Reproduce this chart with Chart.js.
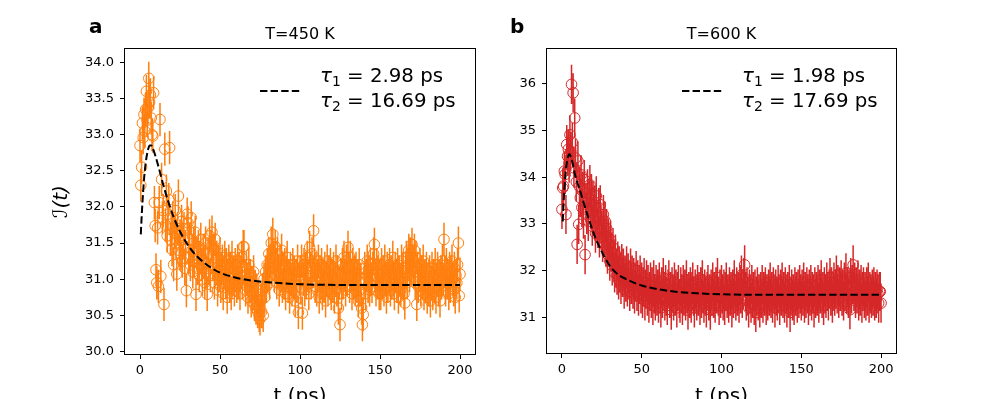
<!DOCTYPE html>
<html>
<head>
<meta charset="utf-8">
<script src="https://cdn.jsdelivr.net/npm/chart.js@4.4.0/dist/chart.umd.min.js"></script>
<style>
html, body { margin: 0; padding: 0; background: #fff; overflow: hidden; }
#wrap { position: relative; width: 997px; height: 399px; overflow: hidden; font-family: 'DejaVu Sans', sans-serif; color: #000; }
.cv { position: absolute; top: 0; }
.lbl { position: absolute; font-weight: bold; font-size: 20px; line-height: 20px; }
.ttl { position: absolute; font-size: 16px; line-height: 16px; text-align: center; }
.leg { position: absolute; font-size: 19.8px; line-height: 20px; white-space: nowrap; }
.leg i { font-style: italic; }
.leg sub { font-size: 0.7em; vertical-align: baseline; position: relative; top: 0.3em; line-height: 0; }
.dash { position: absolute; }
</style>
</head>
<body>
<div id="wrap">
  <canvas id="chartA" class="cv" width="490" height="420" style="left:0px"></canvas>
  <canvas id="chartB" class="cv" width="507" height="420" style="left:490px"></canvas>

  <div class="lbl" style="left:89px;top:16px">a</div>
  <div class="lbl" style="left:510px;top:16px">b</div>
  <div class="ttl" style="left:124px;top:26px;width:352px">T=450 K</div>
  <div class="ttl" style="left:546px;top:26px;width:351px">T=600 K</div>

  <svg class="dash" style="left:260px;top:89px" width="44" height="4"><line x1="0" y1="2" x2="42" y2="2" stroke="#000" stroke-width="2" stroke-dasharray="7.4 3.2"/></svg>
  <div class="leg" style="left:320px;top:66px"><i>τ</i><sub>1</sub> = 2.98 ps</div>
  <div class="leg" style="left:320px;top:91px"><i>τ</i><sub>2</sub> = 16.69 ps</div>

  <svg class="dash" style="left:682px;top:89px" width="44" height="4"><line x1="0" y1="2" x2="42" y2="2" stroke="#000" stroke-width="2" stroke-dasharray="7.4 3.2"/></svg>
  <div class="leg" style="left:742px;top:66px"><i>τ</i><sub>1</sub> = 1.98 ps</div>
  <div class="leg" style="left:742px;top:91px"><i>τ</i><sub>2</sub> = 17.69 ps</div>
</div>

<script>
// sampling interval of the trajectories (ps)
const T_STEP = 0.5;

// T=450 K, one value every 0.5 ps from 0 to 200 ps
const yA = [
  32.85, 32.30, 32.55, 33.16, 32.96, 33.28, 33.05, 33.35, 33.60, 33.20,
  33.37, 33.78, 33.45, 33.55, 33.23, 33.00, 32.98, 33.58, 32.06, 31.74,
  31.13, 30.95, 31.71, 30.90, 32.06, 33.21, 31.04, 32.38, 31.85, 31.95,
  30.65, 32.80, 31.75, 32.22, 31.60, 31.90, 32.10, 32.82, 31.55, 31.70,
  31.41, 31.85, 31.20, 31.65, 31.95, 31.50, 31.07, 31.70, 32.15, 31.40,
  31.60, 31.35, 31.80, 31.25, 31.55, 31.70, 31.15, 31.45, 30.84, 31.90,
  31.78, 31.30, 31.55, 31.20, 31.85, 31.40, 31.10, 31.50, 31.25, 31.65,
  30.79, 31.35, 31.15, 31.45, 31.05, 31.30, 31.55, 31.20, 31.00, 31.40,
  31.25, 30.95, 31.50, 31.10, 30.79, 31.35, 31.15, 31.60, 31.05, 31.45,
  31.65, 31.20, 31.40, 30.95, 31.55, 31.15, 31.30, 30.85, 31.25, 31.05,
  31.35, 30.90, 31.15, 31.25, 30.80, 31.10, 31.30, 30.95, 31.20, 30.75,
  31.05, 31.25, 30.90, 31.15, 30.80, 31.30, 31.00, 31.10, 30.85, 31.20,
  31.05, 30.90, 31.25, 30.95, 31.15, 30.80, 31.10, 31.30, 30.95, 31.45,
  31.45, 31.05, 30.85, 31.15, 31.00, 30.75, 31.20, 30.90, 31.05, 30.70,
  30.95, 30.80, 31.10, 30.65, 30.90, 30.60, 30.85, 30.55, 30.75, 30.50,
  30.45, 30.70, 30.55, 30.85, 30.50, 31.00, 30.75, 31.10, 30.90, 31.20,
  31.05, 31.35, 30.95, 31.25, 31.50, 31.15, 31.62, 31.30, 31.05, 31.45,
  31.20, 30.95, 31.35, 31.10, 30.85, 31.25, 31.05, 31.40, 30.90, 31.15,
  30.95, 31.20, 30.80, 31.10, 31.30, 30.90, 31.05, 30.75, 31.15, 31.00,
  30.85, 31.20, 30.95, 31.10, 30.70, 31.05, 30.90, 31.25, 30.54, 31.00,
  31.10, 30.88, 31.25, 30.53, 31.00, 31.20, 30.85, 31.15, 30.95, 31.30,
  31.05, 30.80, 31.44, 31.15, 30.95, 31.35, 31.10, 31.67, 31.20, 30.90,
  31.15, 30.85, 31.05, 31.25, 30.75, 31.10, 30.95, 31.20, 30.80, 31.05,
  30.90, 31.15, 30.70, 31.00, 31.25, 30.85, 31.10, 30.95, 31.20, 30.80,
  31.05, 30.90, 31.15, 30.75, 31.00, 31.25, 30.85, 31.10, 30.60, 30.95,
  30.37, 31.05, 30.80, 31.20, 30.95, 31.30, 31.05, 30.85, 31.25, 31.00,
  31.44, 31.15, 30.90, 31.30, 31.05, 30.80, 31.20, 30.95, 31.10, 30.85,
  31.15, 30.90, 31.05, 30.70, 31.20, 30.85, 31.00, 30.60, 30.37, 30.51,
  30.95, 31.15, 30.80, 31.05, 31.25, 30.90, 31.10, 30.85, 31.20, 31.00,
  30.90, 31.15, 31.35, 31.48, 31.05, 30.85, 31.20, 30.95, 31.10, 30.80,
  31.05, 30.80, 31.20, 30.95, 31.10, 30.85, 31.25, 31.00, 30.75, 31.15,
  30.90, 31.05, 31.20, 30.85, 31.10, 30.95, 31.30, 31.00, 30.80, 31.15,
  31.05, 30.90, 31.20, 30.75, 31.10, 31.00, 30.85, 31.25, 30.95, 31.15,
  30.80, 30.67, 31.10, 31.30, 30.95, 31.20, 31.40, 31.05, 31.35, 31.15,
  31.48, 31.25, 31.10, 31.40, 30.95, 31.30, 30.65, 31.15, 30.90, 31.05,
  31.20, 30.85, 31.10, 30.95, 31.25, 30.80, 31.05, 30.90, 31.15, 30.75,
  31.00, 30.85, 31.10, 30.70, 30.95, 31.15, 30.80, 31.05, 30.90, 31.20,
  30.75, 31.00, 31.15, 30.85, 31.05, 30.70, 31.10, 30.95, 31.25, 31.00,
  31.55, 31.10, 30.85, 31.20, 30.95, 31.05, 30.80, 31.15, 30.90, 31.10,
  31.25, 31.00, 30.85, 31.15, 30.75, 31.05, 30.95, 31.20, 31.50, 30.77,
  31.07
];

// T=600 K, one value every 0.5 ps from 0 to 200 ps
const yB = [
  33.31, 33.77, 33.81, 34.13, 34.06, 33.20, 34.70, 34.45, 34.60, 34.30,
  34.91, 34.55, 35.99, 34.75, 35.81, 34.20, 35.27, 34.41, 33.90, 32.56,
  34.35, 32.99, 33.80, 33.56, 34.05, 33.35, 33.70, 33.10, 33.95, 32.34,
  33.45, 33.20, 33.75, 33.05, 33.55, 33.84, 33.30, 33.65, 32.95, 33.50,
  33.15, 33.40, 32.80, 33.60, 33.05, 32.90, 33.35, 32.70, 33.41, 33.00,
  32.85, 32.60, 33.20, 32.75, 33.06, 32.50, 32.90, 32.35, 32.70, 32.55,
  32.20, 32.65, 32.40, 32.10, 32.49, 32.25, 31.95, 32.35, 32.05, 31.90,
  32.20, 31.80, 32.10, 31.95, 31.70, 32.15, 31.85, 32.05, 31.60, 31.90,
  31.75, 32.10, 31.65, 31.95, 31.80, 31.55, 32.05, 31.70, 31.90, 31.60,
  31.85, 31.50, 31.75, 32.00, 31.55, 31.80, 31.45, 31.70, 31.90, 31.50,
  31.75, 31.40, 31.65, 31.85, 31.35, 31.60, 31.80, 31.45, 31.70, 31.30,
  31.55, 31.75, 31.40, 31.65, 31.25, 31.80, 31.50, 31.35, 31.70, 31.45,
  31.60, 31.30, 31.75, 31.50, 31.20, 31.65, 31.40, 31.85, 31.55, 31.35,
  31.70, 31.45, 31.25, 31.60, 31.80, 31.40, 31.55, 31.15, 31.65, 31.50,
  31.35, 31.75, 31.45, 31.60, 31.20, 31.55, 31.70, 31.40, 31.30, 31.65,
  31.50, 31.25, 31.70, 31.45, 31.60, 31.35, 31.80, 31.50, 31.15, 31.55,
  31.40, 31.65, 31.30, 31.55, 31.75, 31.45, 31.20, 31.60, 31.50, 31.35,
  31.70, 31.45, 31.55, 31.25, 31.65, 31.40, 31.80, 31.50, 31.30, 31.60,
  31.45, 31.20, 31.55, 31.70, 31.35, 31.50, 31.15, 31.60, 31.45, 31.75,
  31.40, 31.55, 31.30, 31.65, 31.50, 31.85, 31.45, 31.25, 31.60, 31.40,
  31.70, 31.50, 31.35, 31.60, 31.25, 31.55, 31.75, 31.40, 31.50, 31.30,
  31.65, 31.45, 31.55, 31.20, 31.60, 31.40, 31.80, 31.50, 31.35, 31.65,
  31.45, 31.55, 31.30, 31.70, 31.50, 31.90, 31.40, 31.60, 31.85, 32.12,
  31.55, 31.35, 31.65, 31.45, 31.20, 31.60, 31.50, 31.30, 31.70, 31.40,
  31.55, 31.25, 31.60, 31.10, 31.45, 31.65, 31.35, 31.50, 31.20, 31.55,
  31.40, 31.70, 31.30, 31.55, 31.45, 31.65, 31.25, 31.50, 31.35, 31.60,
  31.45, 31.75, 31.40, 31.55, 31.30, 31.65, 31.50, 31.20, 31.60, 31.45,
  31.35, 31.70, 31.50, 31.25, 31.60, 31.45, 31.75, 31.40, 31.55, 31.30,
  31.65, 31.50, 31.20, 31.55, 31.40, 31.70, 31.10, 31.45, 31.60, 31.35,
  31.50, 31.25, 31.65, 31.45, 31.55, 31.30, 31.60, 31.40, 31.70, 31.50,
  31.35, 31.60, 31.45, 31.75, 31.30, 31.55, 31.40, 31.65, 31.50, 31.25,
  31.60, 31.45, 31.70, 31.35, 31.55, 31.50, 31.20, 31.65, 31.40, 31.55,
  31.45, 31.70, 31.30, 31.60, 31.50, 31.80, 31.40, 31.55, 31.25, 31.65,
  31.50, 31.40, 31.75, 31.55, 31.35, 31.60, 31.85, 31.45, 31.65, 31.30,
  31.55, 31.75, 31.45, 31.60, 31.90, 31.50, 31.70, 31.40, 31.65, 31.55,
  31.80, 31.45, 31.60, 31.35, 31.75, 31.55, 31.95, 31.50, 31.65, 31.40,
  31.60, 31.16, 31.85, 31.50, 31.70, 32.12, 31.55, 31.75, 31.40, 31.65,
  31.50, 31.80, 31.35, 31.60, 31.45, 31.70, 31.30, 31.55, 31.65, 31.40,
  31.55, 31.35, 31.65, 31.45, 31.75, 31.30, 31.55, 31.50, 31.40, 31.60,
  31.45, 31.65, 31.35, 31.55, 31.40, 31.60, 31.50, 31.30, 31.55, 31.55,
  31.30
];

// half length of the error bars
const ERR_A = 0.23;
const ERR_B = 0.42;

// fitted double-exponential curves
const fitT = [0.5, 1, 1.5, 2, 2.5, 3, 3.5, 4, 4.5, 5, 6, 7, 8, 10, 12, 15, 18, 21, 25, 30, 35, 40, 45, 50, 60, 70, 85, 100, 130, 200];
const fitA = [31.62, 31.85, 32.05, 32.22, 32.38, 32.50, 32.60, 32.68, 32.74, 32.79, 32.85, 32.85, 32.81, 32.68, 32.52, 32.27, 32.05, 31.86, 31.66, 31.47, 31.33, 31.23, 31.15, 31.09, 31.02, 30.98, 30.95, 30.93, 30.92, 30.92];
const fitB = [33.05, 33.45, 33.73, 33.97, 34.16, 34.30, 34.40, 34.46, 34.49, 34.48, 34.40, 34.25, 34.08, 33.85, 33.64, 33.30, 32.98, 32.70, 32.40, 32.10, 31.92, 31.82, 31.74, 31.68, 31.60, 31.55, 31.51, 31.49, 31.48, 31.48];

// tick labels
const xTicks = [0, 50, 100, 150, 200];
const yTicksA = [30.0, 30.5, 31.0, 31.5, 32.0, 32.5, 33.0, 33.5, 34.0];
const yTicksB = [31, 32, 33, 34, 35, 36];

Chart.defaults.font.family = "'DejaVu Sans', sans-serif";
Chart.defaults.color = '#000';

/**
 * Draws vertical error bars right after the marker dataset,
 * so they sit over the circles but under the fit line
 */
const errorBarPlugin = {
    id: 'errorBars',
    afterDatasetDraw(chart, args, opts) {
        if (args.index !== 1) return;
        const { ctx, chartArea, scales: { x, y } } = chart;
        const pts = chart.data.datasets[1].data;
        ctx.save();
        ctx.beginPath();
        ctx.rect(chartArea.left, chartArea.top, chartArea.width, chartArea.height);
        ctx.clip();
        ctx.strokeStyle = opts.color;
        ctx.lineWidth = 1.5;
        ctx.beginPath();
        pts.forEach(p => {
            const px = x.getPixelForValue(p.x);
            ctx.moveTo(px, y.getPixelForValue(p.y - opts.err));
            ctx.lineTo(px, y.getPixelForValue(p.y + opts.err));
        });
        ctx.stroke();
        ctx.restore();
    }
};

/**
 * Four-sided axes frame like matplotlib spines
 */
const framePlugin = {
    id: 'frame',
    afterDraw(chart) {
        const { ctx, chartArea: a } = chart;
        ctx.save();
        ctx.strokeStyle = '#000';
        ctx.lineWidth = 1;
        ctx.strokeRect(Math.round(a.left) + 0.5, Math.round(a.top) + 0.5,
            Math.round(a.right - a.left) - 1, Math.round(a.bottom - a.top) - 1);
        ctx.restore();
    }
};

function buildChart(canvasId, o) {
    const points = o.values.map((v, i) => ({ x: i * T_STEP, y: v }));
    const fit = fitT.map((t, i) => ({ x: t, y: o.fit[i] }));

    return new Chart(document.getElementById(canvasId), {
        type: 'scatter',
        data: {
            datasets: [
                {
                    data: fit,
                    showLine: true,
                    borderColor: '#000',
                    borderWidth: 2,
                    borderDash: [7.4, 3.2],
                    pointRadius: 0,
                    cubicInterpolationMode: 'monotone',
                    fill: false
                },
                {
                    data: points,
                    showLine: false,
                    pointRadius: 5.3,
                    pointBorderWidth: 1,
                    pointBorderColor: o.color,
                    pointBackgroundColor: 'rgba(0,0,0,0)'
                }
            ]
        },
        options: {
            responsive: false,
            animation: false,
            devicePixelRatio: 1,
            events: [],
            layout: { padding: { left: 0, right: o.padRight, top: 48, bottom: 0 } },
            plugins: {
                legend: { display: false },
                tooltip: { enabled: false },
                errorBars: { color: o.color, err: o.err }
            },
            scales: {
                x: {
                    type: 'linear',
                    min: -10,
                    max: 210,
                    afterBuildTicks: scale => { scale.ticks = xTicks.map(v => ({ value: v })); },
                    afterFit: scale => { scale.height = o.xHeight; },
                    grid: { drawOnChartArea: false, drawTicks: true, tickLength: 4, color: '#000', lineWidth: 1 },
                    border: { display: false },
                    ticks: { padding: 4, font: { size: 13 }, color: '#000', maxRotation: 0 },
                    title: {
                        display: true,
                        text: 't (ps)',
                        font: { size: 20 },
                        color: '#000',
                        padding: { top: 0, bottom: 11 }
                    }
                },
                y: {
                    type: 'linear',
                    min: o.yMin,
                    max: o.yMax,
                    afterBuildTicks: scale => { scale.ticks = o.yTicks.map(v => ({ value: v })); },
                    afterFit: scale => { scale.width = o.yWidth; },
                    grid: { drawOnChartArea: false, drawTicks: true, tickLength: 4, color: '#000', lineWidth: 1 },
                    border: { display: false },
                    ticks: { padding: 6, font: { size: 13 }, color: '#000', callback: o.fmt },
                    title: {
                        display: !!o.yTitle,
                        text: o.yTitle || '',
                        font: { size: 20, style: 'italic' },
                        color: '#000',
                        padding: { top: 50, bottom: 0 }
                    }
                }
            }
        },
        plugins: [errorBarPlugin, framePlugin]
    });
}

document.addEventListener('DOMContentLoaded', function() {
    buildChart('chartA', {
        values: yA, fit: fitA, err: ERR_A, color: '#ff7f0e',
        yMin: 29.95, yMax: 34.2, yTicks: yTicksA,
        fmt: v => v.toFixed(1),
        yTitle: 'ℐ(t)',
        yWidth: 124, padRight: 14, xHeight: 65
    });
    buildChart('chartB', {
        values: yB, fit: fitB, err: ERR_B, color: '#d62728',
        yMin: 30.21, yMax: 36.77, yTicks: yTicksB,
        fmt: v => String(v),
        yTitle: null,
        yWidth: 56, padRight: 100, xHeight: 66
    });
});
</script>
</body>
</html>
